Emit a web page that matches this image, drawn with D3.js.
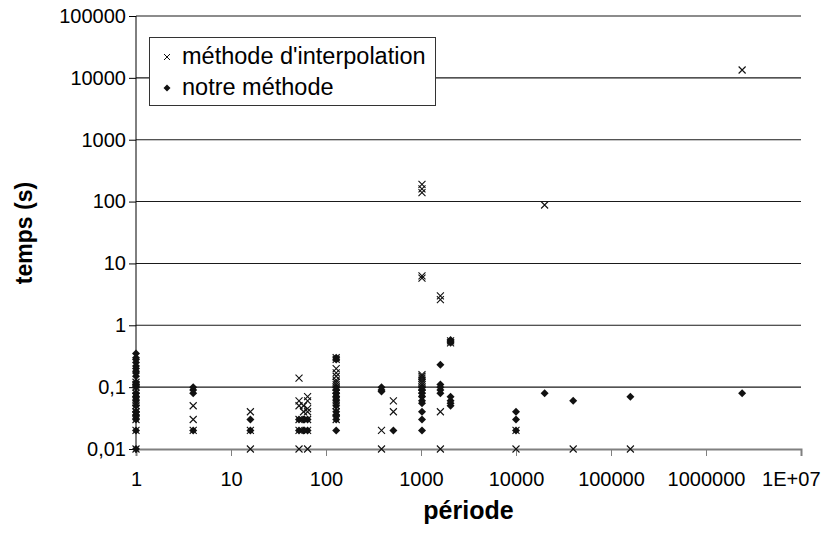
<!DOCTYPE html>
<html><head><meta charset="utf-8">
<script src="https://cdn.jsdelivr.net/npm/d3@7"></script>
<style>body{margin:0;background:#fff}svg{display:block}text{font-family:"Liberation Sans",Arial,sans-serif}</style>
</head><body><svg id="c" width="836" height="540"></svg>
<script>
const xTicks = [1,10,100,1000,10000,100000,1000000,10000000];
const xTickLabels = ["1","10","100","1000","10000","100000","1000000","1E+07"];
const yTicks = [0.01,0.1,1,10,100,1000,10000,100000];
const yTickLabels = ["0,01","0,1","1","10","100","1000","10000","100000"];
const seriesNames = ["méthode d'interpolation","notre méthode"];
// [période, temps]
const interpPoints = [
 [1,0.01],[1,0.02],[1,0.03],[1,0.035],[1,0.04],[1,0.045],[1,0.05],[1,0.06],[1,0.07],[1,0.08],[1,0.09],[1,0.1],[1,0.11],[1,0.12],
 [4,0.05],[4,0.03],[4,0.02],
 [16,0.04],[16,0.02],[16,0.01],
 [52,0.14],[52,0.06],[52,0.05],[52,0.03],[52,0.02],[52,0.01],
 [58,0.05],[58,0.04],
 [64,0.07],[64,0.06],[64,0.045],[64,0.04],[64,0.03],[64,0.02],[64,0.01],
 [128,0.3],[128,0.28],[128,0.2],[128,0.17],[128,0.15],[128,0.13],[128,0.12],[128,0.11],[128,0.1],[128,0.09],[128,0.08],[128,0.07],[128,0.06],[128,0.05],[128,0.04],[128,0.03],
 [384,0.02],[384,0.01],
 [512,0.06],[512,0.04],
 [1024,190],[1024,160],[1024,140],[1024,6.3],[1024,5.8],[1024,0.16],[1024,0.15],[1024,0.14],[1024,0.13],[1024,0.12],[1024,0.11],[1024,0.1],[1024,0.09],[1024,0.08],
 [1600,3.0],[1600,2.6],[1600,0.04],[1600,0.01],
 [2048,0.56],[2048,0.52],
 [10000,0.02],[10000,0.01],
 [20000,88],
 [40000,0.01],
 [160000,0.01],
 [2400000,13400]
];
const notrePoints = [
 [1,0.01],[1,0.02],[1,0.03],[1,0.035],[1,0.04],[1,0.05],[1,0.06],[1,0.07],[1,0.08],[1,0.1],[1,0.11],[1,0.12],[1,0.15],[1,0.17],[1,0.18],[1,0.2],[1,0.22],[1,0.25],[1,0.28],[1,0.3],[1,0.35],
 [4,0.1],[4,0.09],[4,0.08],[4,0.02],
 [16,0.03],[16,0.02],
 [52,0.03],[52,0.02],[58,0.03],[58,0.02],[64,0.03],[64,0.02],
 [128,0.3],[128,0.28],[128,0.1],[128,0.09],[128,0.08],[128,0.07],[128,0.06],[128,0.05],[128,0.04],[128,0.035],[128,0.03],[128,0.02],
 [384,0.1],[384,0.09],[384,0.085],
 [512,0.02],
 [1024,0.1],[1024,0.09],[1024,0.08],[1024,0.07],[1024,0.06],[1024,0.055],[1024,0.04],[1024,0.03],[1024,0.02],
 [1600,0.23],[1600,0.11],[1600,0.1],[1600,0.09],[1600,0.08],
 [2048,0.58],[2048,0.55],[2048,0.52],[2048,0.07],[2048,0.06],[2048,0.055],[2048,0.05],
 [10000,0.04],[10000,0.03],[10000,0.02],
 [20000,0.08],
 [40000,0.06],
 [160000,0.07],
 [2400000,0.08]
];

const svg = d3.select("#c");
const x = d3.scaleLog().domain([1,1e7]).range([136,801]);
const y = d3.scaleLog().domain([0.01,1e5]).range([449,16]);

// gridlines
svg.append("g").selectAll("line").data(yTicks.slice(1)).join("line")
  .attr("x1",x(1)).attr("x2",x(1e7)).attr("y1",d=>y(d)).attr("y2",d=>y(d))
  .attr("stroke","#1a1a1a").attr("stroke-width",1.1);

// x axis
const xAxis = d3.axisBottom(x).tickValues(xTicks).tickFormat((d,i)=>xTickLabels[i]).tickSize(7).tickPadding(16);
const gx = svg.append("g").attr("transform",`translate(0,${y(0.01)})`).call(xAxis);
gx.select(".domain").attr("stroke","#808080").attr("stroke-width",2);
gx.selectAll(".tick line").attr("stroke","#808080");
gx.selectAll(".tick text").attr("font-size",20).attr("fill","#000").style("font-family","'Liberation Sans',Arial,sans-serif");
gx.selectAll(".tick text").filter((d,i)=>i===xTicks.length-1).attr("text-anchor","end").attr("dx",19);

// y axis
const yAxis = d3.axisLeft(y).tickValues(yTicks).tickFormat((d,i)=>yTickLabels[i]).tickSize(7).tickPadding(3);
const gy = svg.append("g").attr("transform",`translate(${x(1)},0)`).call(yAxis);
gy.select(".domain").attr("stroke","#000").attr("d",`M0,${y(1e5)}V${y(0.01)+4}`);
gy.selectAll(".tick line").attr("stroke","#000");
gy.selectAll(".tick text").attr("font-size",20).attr("fill","#000").style("font-family","'Liberation Sans',Arial,sans-serif");

// markers
const diamond = "M0,-4L4,0L0,4L-4,0Z";
const cross = "M-3.5,-3.5L3.5,3.5M-3.5,3.5L3.5,-3.5";
svg.append("g").selectAll("path").data(notrePoints).join("path")
  .attr("transform",d=>`translate(${x(d[0])},${y(d[1])})`).attr("d",diamond).attr("fill","#111");
svg.append("g").selectAll("path").data(interpPoints).join("path")
  .attr("transform",d=>`translate(${x(d[0])},${y(d[1])})`).attr("d",cross).attr("stroke","#111").attr("stroke-width",1.1).attr("fill","none");

// axis titles
svg.append("text").attr("x",(x(1)+x(1e7))/2).attr("y",519).attr("text-anchor","middle")
  .attr("font-size",25).attr("font-weight","bold").text("période");
svg.append("text").attr("transform","translate(32,233) rotate(-90)").attr("text-anchor","middle")
  .attr("font-size",23).attr("font-weight","bold").text("temps (s)");

// legend
const lg = svg.append("g");
lg.append("rect").attr("x",149.5).attr("y",37.5).attr("width",286).attr("height",68).attr("fill","#fff").attr("stroke","#333");
lg.append("path").attr("transform","translate(167,57)").attr("d","M-3,-3L3,3M-3,3L3,-3").attr("stroke","#111").attr("fill","none");
lg.append("path").attr("transform","translate(167,88)").attr("d","M0,-3.5L3.5,0L0,3.5L-3.5,0Z").attr("fill","#111");
lg.append("text").attr("x",182).attr("y",64).attr("font-size",23.5).text(seriesNames[0]);
lg.append("text").attr("x",182).attr("y",95).attr("font-size",23.5).text(seriesNames[1]);
</script></body></html>
